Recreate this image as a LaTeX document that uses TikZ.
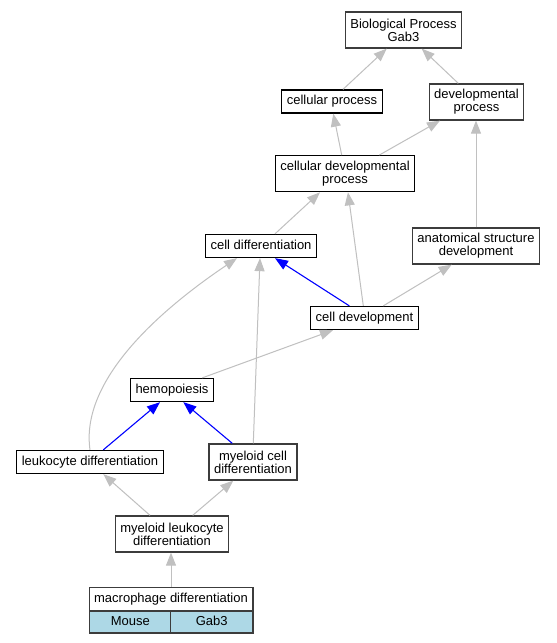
\documentclass[tikz,border=0pt]{standalone}
\usepackage{fontspec}
\setmainfont{Liberation Sans}
\usepackage{tikz}
\usetikzlibrary{arrows.meta,positioning}
\definecolor{edgegray}{RGB}{192,192,192}
\definecolor{linkblue}{RGB}{0,0,255}
\definecolor{boxdark}{RGB}{60,60,60}
\definecolor{cellblue}{RGB}{173,216,230}
\tikzset{
  termbox/.style={rectangle,draw=black,line width=1.3bp,fill=white,align=center,inner xsep=5bp,inner ysep=0pt,minimum height=23bp,font=\fontsize{13bp}{13bp}\selectfont},
  oneline/.style={text height=9.6bp,text depth=2.8bp},
  termboxg/.style={termbox,draw=boxdark},
  twoline/.style={minimum height=36bp},
  cellbox/.style={termbox,oneline,draw=boxdark,fill=cellblue,minimum width=82.3bp,minimum height=21.3bp},
  grayarr/.style={-{Triangle[length=13bp,width=10bp]},line width=1bp,color=edgegray},
  bluearr/.style={-{Triangle[length=13bp,width=10bp]},line width=1.1bp,color=linkblue}
}
\begin{document}
\begin{tikzpicture}[x=1bp,y=-1bp]
  \fill[white] (0,0) rectangle (557,643);
  \node[termboxg,twoline] (bp) at (403.5,30) {Biological Process\\Gab3};
  \node[termbox,oneline] (cp) at (332,101.5) {cellular process};
  \node[termboxg,twoline] (dp) at (476.5,102) {developmental\\process};
  \node[termbox,twoline] (cdp) at (345,173.7) {cellular developmental\\process};
  \node[termbox,oneline] (cdiff) at (261,246) {cell differentiation};
  \node[termboxg,twoline] (asd) at (476,246) {anatomical structure\\development};
  \node[termbox,oneline] (cdev) at (364.5,318) {cell development};
  \node[termbox,oneline] (hemo) at (172,390) {hemopoiesis};
  \node[termbox,oneline] (leuk) at (90,462) {leukocyte differentiation};
  \node[termboxg,twoline] (mcd) at (253,462) {myeloid cell\\differentiation};
  \node[termboxg,twoline] (mld) at (172,534) {myeloid leukocyte\\differentiation};
  \node[termboxg,oneline] (mac) at (171,599) {macrophage differentiation};
  \node[cellbox,anchor=north west] (mouse) at (mac.south west) {Mouse};
  \node[cellbox,anchor=north east] (gab) at (mac.south east) {Gab3};

  \draw[grayarr] ([xshift=11bp]cp.north) -- ([xshift=-16.8bp]bp.south);
  \draw[grayarr] ([xshift=-18.2bp]dp.north) -- ([xshift=18.2bp]bp.south);
  \draw[grayarr] ([xshift=-3.3bp]cdp.north) -- ([xshift=1.3bp]cp.south);
  \draw[grayarr] ([xshift=34.3bp]cdp.north) -- ([xshift=-36.5bp]dp.south);
  \draw[grayarr] (asd.north) -- (asd.north |- dp.south);
  \draw[grayarr] ([xshift=14bp]cdiff.north) -- ([xshift=-25bp]cdp.south);
  \draw[grayarr] ([xshift=-1.2bp]cdev.north) -- ([xshift=3bp]cdp.south);
  \draw[bluearr] ([xshift=-15.2bp]cdev.north) -- ([xshift=14bp]cdiff.south);
  \draw[grayarr] ([xshift=18.8bp]cdev.north) -- ([xshift=-24.3bp]asd.south);
  \draw[grayarr] ([xshift=30.3bp]hemo.north) -- ([xshift=-31.5bp]cdev.south);
  \draw[grayarr] (leuk.north) .. controls (80,380) and (160,310) .. ([xshift=-24bp]cdiff.south);
  \draw[grayarr] ([xshift=0.3bp]mcd.north) -- ([xshift=-1bp]cdiff.south);
  \draw[bluearr] ([xshift=13.3bp]leuk.north) -- ([xshift=-12bp]hemo.south);
  \draw[bluearr] ([xshift=-20.7bp]mcd.north) -- ([xshift=11.3bp]hemo.south);
  \draw[grayarr] ([xshift=-22bp]mld.north) -- ([xshift=13.3bp]leuk.south);
  \draw[grayarr] ([xshift=20.7bp]mld.north) -- ([xshift=-19.7bp]mcd.south);
  \draw[grayarr] (mac.north) -- (mac.north |- mld.south);
\end{tikzpicture}
\end{document}
